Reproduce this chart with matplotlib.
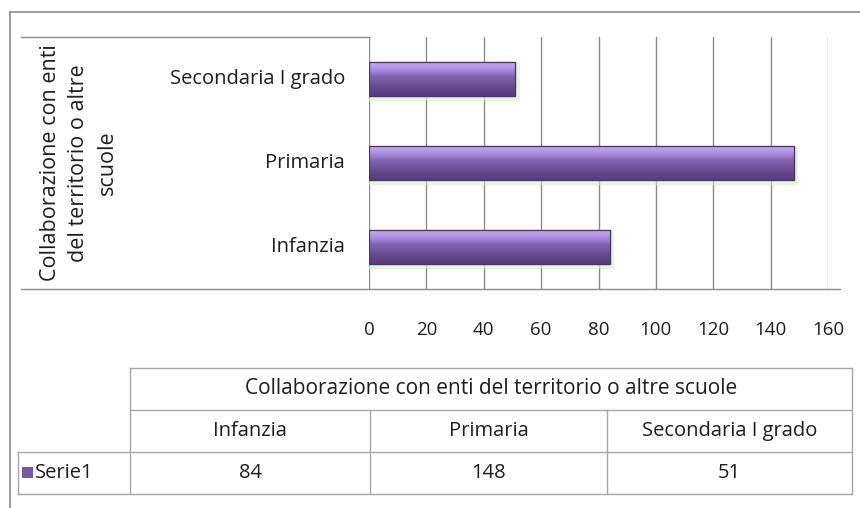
import numpy as np
import matplotlib
matplotlib.use("Agg")
import matplotlib.pyplot as plt
from matplotlib.lines import Line2D
from matplotlib.patches import Rectangle

plt.rcParams['font.family'] = ['Open Sans', 'DejaVu Sans']

# data
categories = ["Infanzia", "Primaria", "Secondaria I grado"]
values = [84, 148, 51]
series_name = "Serie1"
group_title = "Collaborazione con enti del territorio o altre scuole"
axis_title = "Collaborazione con enti\ndel territorio o altre\nscuole"
x_ticks = [0, 20, 40, 60, 80, 100, 120, 140, 160]

W, H = 860, 508
fig = plt.figure(figsize=(W / 100, H / 100), dpi=100)
fig.patch.set_facecolor("white")


def fx(px):
    return px / W


def fy(py):
    return 1 - py / H


line_grey = "#8c8c8c"
table_grey = "#a6a6a6"
text_col = "#1e1e1e"

# outer frame (only top and left visible)
fig.add_artist(Line2D([fx(10), fx(10)], [fy(12), fy(508)], color=line_grey, lw=1.2))
fig.add_artist(Line2D([fx(10), fx(860)], [fy(12), fy(12)], color=line_grey, lw=1.2))

# plot area
left, right, top, bottom = 369, 828, 37, 289
ax = fig.add_axes([fx(left), fy(bottom), fx(right - left), (bottom - top) / H])
ax.set_xlim(0, 160)
ax.set_ylim(-0.5, len(categories) - 0.5)
ax.set_xticks(x_ticks)
ax.set_yticks([])
ax.grid(axis="x", color="#8a8a8a", lw=1)
ax.set_axisbelow(True)
for s in ax.spines.values():
    s.set_visible(False)
ax.tick_params(axis="x", length=0, pad=23, labelsize=13.5, colors=text_col)

ypos = np.arange(len(categories))
# soft green glow under the bars
for y, v in zip(ypos, values):
    ax.barh(y - 0.03, v + 1.5, height=0.46, color="#d8efc0", alpha=0.6, zorder=2, lw=0)
bars = ax.barh(ypos, values, height=0.4, color="#7a5aa6", edgecolor="#4f3570", lw=0.8, zorder=3)

# vertical gradient inside each bar for the bevel look
grad = np.array([[0.0], [0.12], [0.25], [0.5], [0.75], [0.88], [1.0]])
cmap = matplotlib.colors.LinearSegmentedColormap.from_list(
    "bev", ["#5a3e80", "#664a8e", "#7556a0", "#7b5ca8", "#8566b4", "#a583d8", "#c3a2ee"])
for b in bars:
    x0, y0, w, h = b.get_x(), b.get_y(), b.get_width(), b.get_height()
    im = ax.imshow(grad, cmap=cmap, extent=[x0, x0 + w, y0, y0 + h], origin="lower",
                   aspect="auto", zorder=4, interpolation="bicubic")
    im.set_clip_path(b)
    ax.add_patch(Rectangle((x0, y0), w, h, fill=False, ec="#4a3168", lw=0.9, zorder=5))
ax.set_xlim(0, 160)
ax.set_ylim(-0.5, len(categories) - 0.5)

# category box lines
fig.add_artist(Line2D([fx(21), fx(left)], [fy(top), fy(top)], color=line_grey, lw=1))
fig.add_artist(Line2D([fx(21), fx(840)], [fy(bottom), fy(bottom)], color=line_grey, lw=1))

# category labels
for y, c in zip(ypos, categories):
    ax.text(-0.052, y, c, transform=ax.get_yaxis_transform(), ha="right", va="center",
            fontsize=14.5, color=text_col)

fig.text(fx(79), fy(163), axis_title, rotation=90, ha="center", va="center",
         fontsize=15.5, color=text_col, linespacing=1.45, multialignment="center")

# data table
tax = fig.add_axes([0, 0, 1, 1])
tax.set_xlim(0, W)
tax.set_ylim(H, 0)
tax.axis("off")
tax.patch.set_alpha(0)

col_x = [130, 370, 607, 852]
row_y = [368, 410, 452, 494]


def hline(y, x0, x1):
    tax.plot([x0, x1], [y, y], color=table_grey, lw=1)


def vline(x, y0, y1):
    tax.plot([x, x], [y0, y1], color=table_grey, lw=1)


hline(row_y[0], col_x[0], col_x[-1])
hline(row_y[1], col_x[0], col_x[-1])
hline(row_y[2], 18, col_x[-1])
hline(row_y[3], 18, col_x[-1])
vline(col_x[0], row_y[0], row_y[3])
vline(col_x[-1], row_y[0], row_y[3])
vline(col_x[1], row_y[1], row_y[3])
vline(col_x[2], row_y[1], row_y[3])
vline(18, row_y[2], row_y[3])

tax.text((col_x[0] + col_x[-1]) / 2, (row_y[0] + row_y[1]) / 2, group_title,
         ha="center", va="center", fontsize=15, color=text_col)
for i, (c, v) in enumerate(zip(categories, values)):
    cx = (col_x[i] + col_x[i + 1]) / 2
    tax.text(cx, (row_y[1] + row_y[2]) / 2, c, ha="center", va="center",
             fontsize=14.5, color=text_col)
    tax.text(cx, (row_y[2] + row_y[3]) / 2, str(v), ha="center", va="center",
             fontsize=14.5, color=text_col)

tax.add_patch(Rectangle((22, 467), 10, 10, color="#7a5aa6", ec="#4f3570", lw=0.5))
tax.text(35, (row_y[2] + row_y[3]) / 2, series_name, ha="left", va="center",
         fontsize=14.5, color=text_col)

fig.savefig("out.png", dpi=100)
